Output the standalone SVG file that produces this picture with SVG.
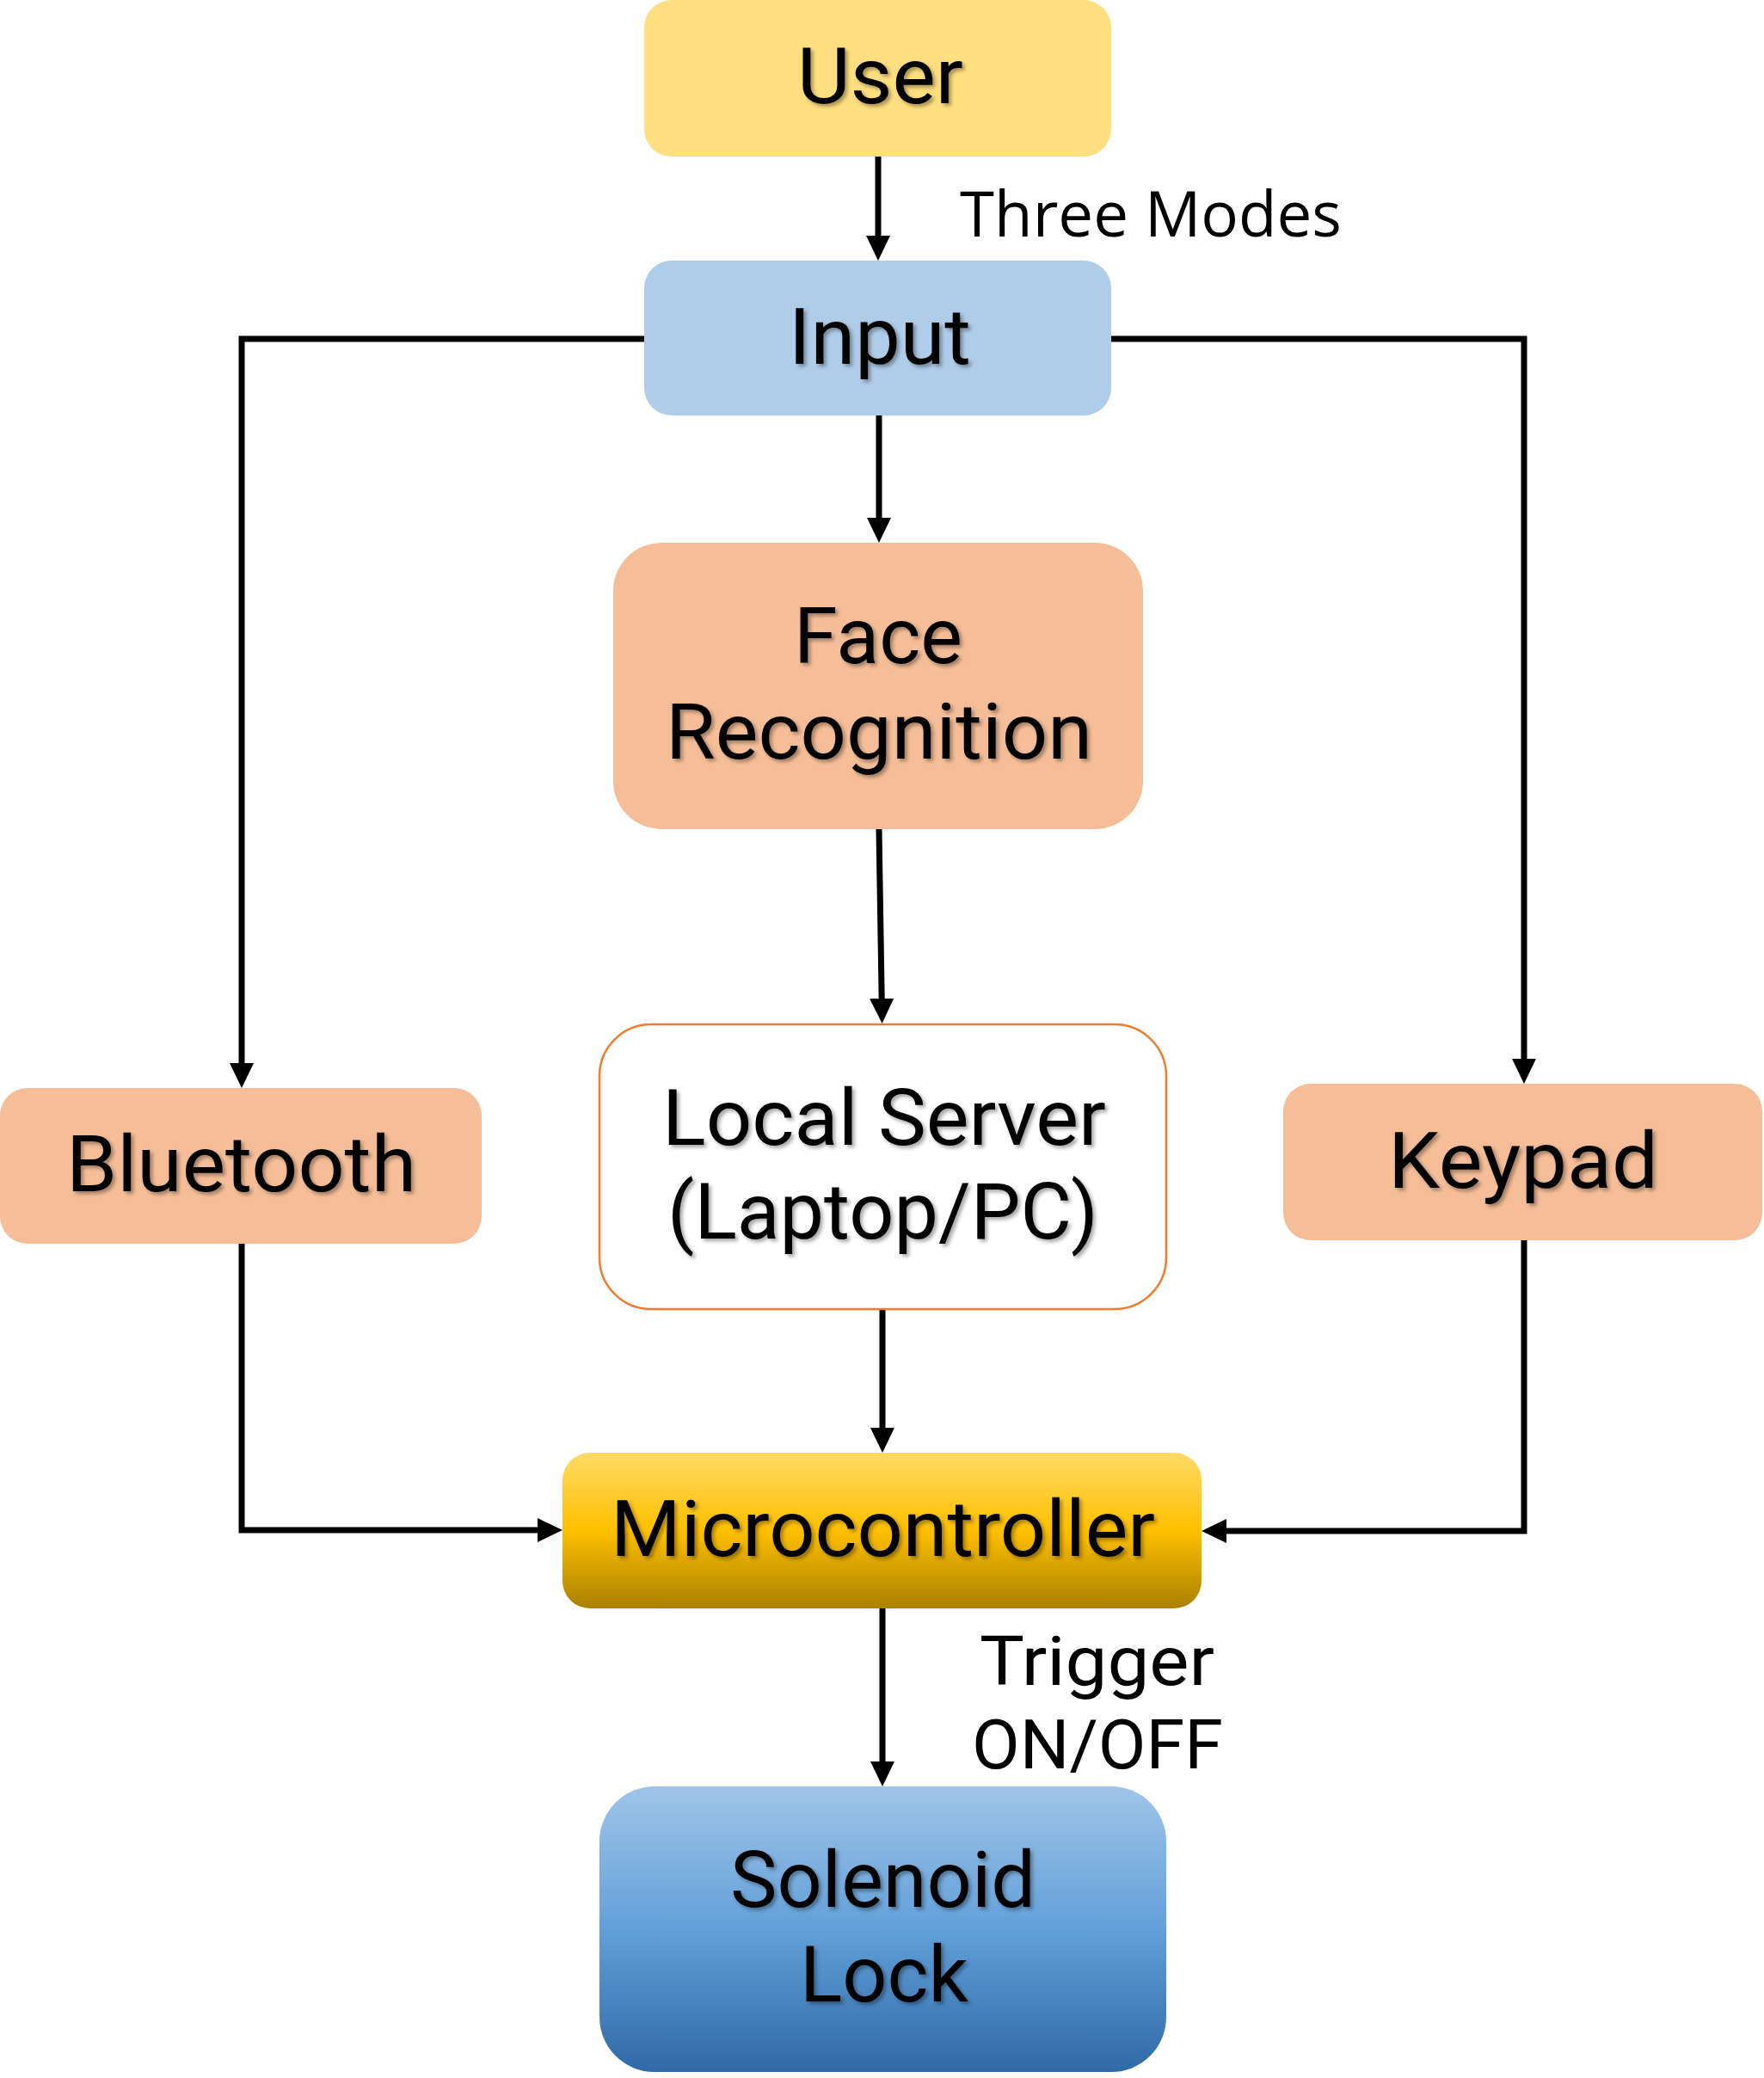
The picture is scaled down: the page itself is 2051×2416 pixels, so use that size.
<svg xmlns="http://www.w3.org/2000/svg" width="2051" height="2416" viewBox="0 0 2051 2416">
  <defs>
    <style>
      .lbl { font-family: Roboto, "Liberation Sans", sans-serif; font-size: 91px; fill: #000; filter: url(#ts); }
      .edge { font-family: Roboto, "Liberation Sans", sans-serif; font-size: 80px; fill: #000; }
      .cal { font-family: "Open Sans", "Liberation Sans", sans-serif; font-size: 74px; fill: #000; }
      .conn { fill: none; stroke: #000; stroke-width: 7; marker-end: url(#ah); }
      .peach { fill: #F5BE98; }
    </style>
    <filter id="ts" x="-10%" y="-20%" width="130%" height="150%">
      <feDropShadow dx="3" dy="3" stdDeviation="2" flood-color="#000" flood-opacity="0.35"/>
    </filter>
    <marker id="ah" markerUnits="userSpaceOnUse" markerWidth="32" markerHeight="32" refX="14" refY="14" orient="auto">
      <path d="M0,0 L29,14 L0,28 Z" fill="#000"/>
    </marker>
    <linearGradient id="gMicro" x1="0" y1="0" x2="0" y2="1">
      <stop offset="0" stop-color="#FFDA66"/>
      <stop offset="0.5" stop-color="#FFC000"/>
      <stop offset="1" stop-color="#A98000"/>
    </linearGradient>
    <linearGradient id="gSol" x1="0" y1="0" x2="0" y2="1">
      <stop offset="0" stop-color="#A0C4E8"/>
      <stop offset="0.5" stop-color="#62A0D9"/>
      <stop offset="1" stop-color="#2F69A6"/>
    </linearGradient>
  </defs>
  <rect width="2051" height="2416" fill="#fff"/>

  <g id="connectors">
    <line class="conn" x1="1021" y1="182" x2="1021" y2="288"/>
    <line class="conn" x1="1022" y1="483" x2="1022" y2="616"/>
    <polyline class="conn" points="749,394 281,394 281,1250"/>
    <polyline class="conn" points="1292,394 1772,394 1772,1245"/>
    <line class="conn" x1="1022" y1="964" x2="1025.4" y2="1175"/>
    <line class="conn" x1="1026" y1="1522" x2="1026" y2="1674"/>
    <polyline class="conn" points="281,1446 281,1779 639,1779"/>
    <polyline class="conn" points="1772,1442 1772,1780 1412,1780"/>
    <line class="conn" x1="1026" y1="1870" x2="1026" y2="2062"/>
    <text class="cal" x="1116" y="275" textLength="444" lengthAdjust="spacingAndGlyphs">Three Modes</text>
    <text class="edge" x="1139" y="1959" textLength="273" lengthAdjust="spacingAndGlyphs">Trigger</text>
    <text class="edge" x="1130" y="2056" textLength="292" lengthAdjust="spacingAndGlyphs">ON/OFF</text>
  </g>

  <g id="user">
    <rect x="749" y="0" width="543" height="182" rx="32" fill="#FFDF7F"/>
    <text class="lbl" x="927" y="120" textLength="193" lengthAdjust="spacingAndGlyphs">User</text>
  </g>
  <g id="input">
    <rect x="749" y="303" width="543" height="180" rx="32" fill="#AFCCE9"/>
    <text class="lbl" x="917" y="423" textLength="212" lengthAdjust="spacingAndGlyphs">Input</text>
  </g>
  <g id="face-recognition">
    <rect class="peach" x="713" y="631" width="616" height="333" rx="56"/>
    <text class="lbl" x="923" y="771" textLength="196" lengthAdjust="spacingAndGlyphs">Face</text>
    <text class="lbl" x="774" y="882" textLength="496" lengthAdjust="spacingAndGlyphs">Recognition</text>
  </g>
  <g id="bluetooth">
    <rect class="peach" x="0" y="1265" width="560" height="181" rx="32"/>
    <text class="lbl" x="77" y="1385" textLength="407" lengthAdjust="spacingAndGlyphs">Bluetooth</text>
  </g>
  <g id="local-server">
    <rect x="697" y="1191" width="659" height="331" rx="60" fill="#fff" stroke="#ED7D31" stroke-width="2.5"/>
    <text class="lbl" x="770" y="1331" textLength="516" lengthAdjust="spacingAndGlyphs">Local Server</text>
    <text class="lbl" x="776" y="1440" textLength="501" lengthAdjust="spacingAndGlyphs">(Laptop/PC)</text>
  </g>
  <g id="keypad">
    <rect class="peach" x="1492" y="1260" width="557" height="182" rx="32"/>
    <text class="lbl" x="1614" y="1381" textLength="314" lengthAdjust="spacingAndGlyphs">Keypad</text>
  </g>
  <g id="microcontroller">
    <rect x="654" y="1689" width="743" height="181" rx="32" fill="url(#gMicro)"/>
    <text class="lbl" x="710" y="1809" textLength="633" lengthAdjust="spacingAndGlyphs">Microcontroller</text>
  </g>
  <g id="solenoid-lock">
    <rect x="697" y="2077" width="659" height="332" rx="64" fill="url(#gSol)"/>
    <text class="lbl" x="849" y="2217" textLength="355" lengthAdjust="spacingAndGlyphs">Solenoid</text>
    <text class="lbl" x="930" y="2327" textLength="196" lengthAdjust="spacingAndGlyphs">Lock</text>
  </g>
</svg>
